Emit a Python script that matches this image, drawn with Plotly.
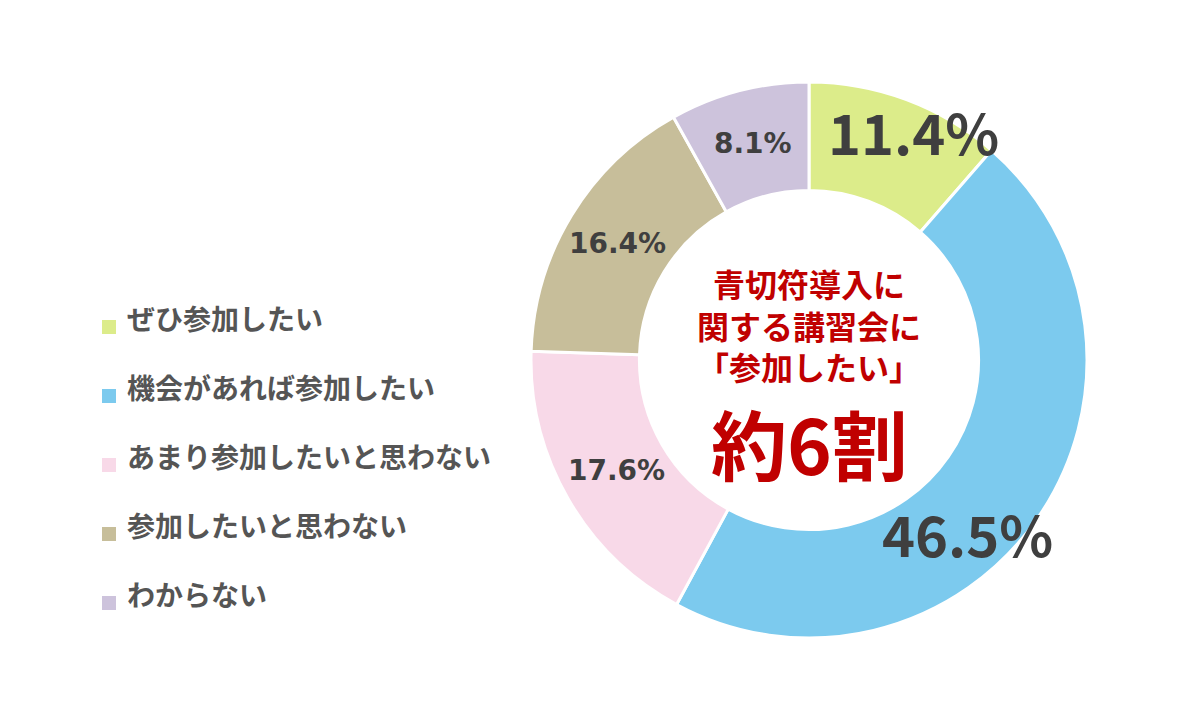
import numpy as np
import plotly.graph_objects as go

# answers (clockwise from 12 o'clock)
categories = ["ぜひ参加したい", "機会があれば参加したい", "あまり参加したいと思わない",
              "参加したいと思わない", "わからない"]
values = [11.4, 46.5, 17.6, 16.4, 8.1]
labels = ["11.4%", "46.5%", "17.6%", "16.4%", "8.1%"]
colors = ["#dcec8a", "#7ccaee", "#f8d9e8", "#c7be9a", "#cdc3dc"]

center_lines = ["青切符導入に", "関する講習会に", "「参加したい」"]
center_big = "約6割"

W, H = 1200, 720
OFF = 8          # page body margin in the browser
TY = 5           # glyph centring correction for CJK font
FONT = "Noto Sans CJK JP"
TEXT_DARK = "#3f3f3f"
RED = "#c00000"


def px_x(x):
    return (x - OFF) / W


def px_y(y):
    return 1 - (y - OFF) / H


# donut geometry in screen px
cx, cy, R = 809, 360, 278

fig = go.Figure()
fig.add_trace(go.Pie(
    labels=categories,
    values=values,
    sort=False,
    direction="clockwise",
    rotation=0,
    hole=0.61,
    marker=dict(colors=colors, line=dict(color="white", width=3)),
    textinfo="none",
    hoverinfo="label+percent",
    showlegend=False,
    domain=dict(x=[px_x(cx - R), px_x(cx + R)], y=[px_y(cy + R), px_y(cy - R)]),
))

# percentage labels, placed along each slice
label_frac = [0.61, 0.58, 0.5, 0.5, 0.5]
label_r = [248, 238, 222, 224, 224]
label_size = [56, 56, 28, 28, 28]
label_font = [FONT, FONT, "DejaVu Sans", "DejaVu Sans", "DejaVu Sans"]
starts = np.cumsum([0] + values[:-1])
for i, txt in enumerate(labels):
    ang = np.deg2rad(90 - 360 * (starts[i] + label_frac[i] * values[i]) / 100)
    px = cx + label_r[i] * np.cos(ang)
    py = cy - label_r[i] * np.sin(ang)
    dy = TY if label_font[i] == FONT else 0
    fig.add_annotation(
        x=px_x(px), y=px_y(py - dy), xref="paper", yref="paper",
        text=f"<b>{txt}</b>", showarrow=False,
        xanchor="center", yanchor="middle",
        font=dict(family=label_font[i], size=label_size[i], color=TEXT_DARK),
    )

# centre message
fig.add_annotation(
    x=px_x(cx), y=px_y(324), xref="paper", yref="paper",
    text="<b>" + "<br>".join(center_lines) + "</b>", showarrow=False,
    xanchor="center", yanchor="middle", align="center",
    font=dict(family=FONT, size=32, color=RED),
)
fig.add_annotation(
    x=px_x(cx), y=px_y(442), xref="paper", yref="paper",
    text=f"<b>{center_big}</b>", showarrow=False, xanchor="center", yanchor="middle",
    font=dict(family=FONT, size=76, color=RED),
)

# legend drawn by hand (wide row gaps)
for k, (name, col) in enumerate(zip(categories, colors)):
    ty = 323 + 69 * k
    fig.add_shape(type="rect", xref="paper", yref="paper",
                  x0=px_x(102), x1=px_x(116), y0=px_y(ty + 11), y1=px_y(ty - 3),
                  fillcolor=col, line=dict(width=0))
    fig.add_annotation(
        x=px_x(125), y=px_y(ty - TY), xref="paper", yref="paper",
        text=f"<b>{name}</b>", showarrow=False, xanchor="left", yanchor="middle",
        font=dict(family=FONT, size=28, color="#555555"),
    )

fig.update_layout(
    width=W, height=H,
    margin=dict(l=0, r=0, t=0, b=0),
    paper_bgcolor="white",
    plot_bgcolor="white",
)

fig.write_html("out.html")
